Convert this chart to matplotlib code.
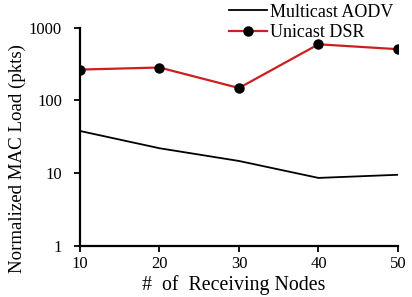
import matplotlib
matplotlib.use("Agg")
import matplotlib.pyplot as plt

nodes = [10, 20, 30, 40, 50]
multicast_aodv = [38, 22, 14.7, 8.6, 9.5]
unicast_dsr = [265, 283, 148, 590, 505]
yticks = [1, 10, 100, 1000]

plt.rcParams['font.family'] = ['Liberation Serif']
fig = plt.figure(figsize=(4.12, 2.97), dpi=100)
ax = fig.add_axes([0.194, 0.172, 0.772, 0.735])
ax.plot(nodes, multicast_aodv, color='black', lw=1.3, label='Multicast AODV')
ax.plot(nodes, unicast_dsr, color='#cc1f1f', lw=1.6, marker='o', ms=6.5,
        mfc='black', mec='black', label='Unicast DSR')
ax.set_yscale('log')
ax.set_ylim(1, 1000)
ax.set_xlim(10, 50)
ax.set_yticks(yticks)
ax.set_yticklabels([str(v) for v in yticks])
ax.minorticks_off()
ax.set_xticks(nodes)
ax.spines['top'].set_visible(False)
ax.spines['right'].set_visible(False)
ax.spines['left'].set_linewidth(1.6)
ax.spines['bottom'].set_linewidth(1.6)
ax.tick_params(labelsize=12, direction='out', length=4, width=1.3)
ax.tick_params(axis='y', pad=9)
ax.set_xlabel('#  of  Receiving Nodes', fontsize=14.3)
ax.set_ylabel('Normalized MAC Load (pkts)', fontsize=13.6)
ax.xaxis.set_label_coords(0.483, -0.135)
ax.yaxis.set_label_coords(-0.17, 0.40)
ax.legend(loc='upper right', bbox_to_anchor=(1.02, 1.16), frameon=False,
          fontsize=13, handlelength=2.1, handletextpad=0.2, labelspacing=0.22,
          borderpad=0.1)
fig.savefig('out.png', dpi=100)
